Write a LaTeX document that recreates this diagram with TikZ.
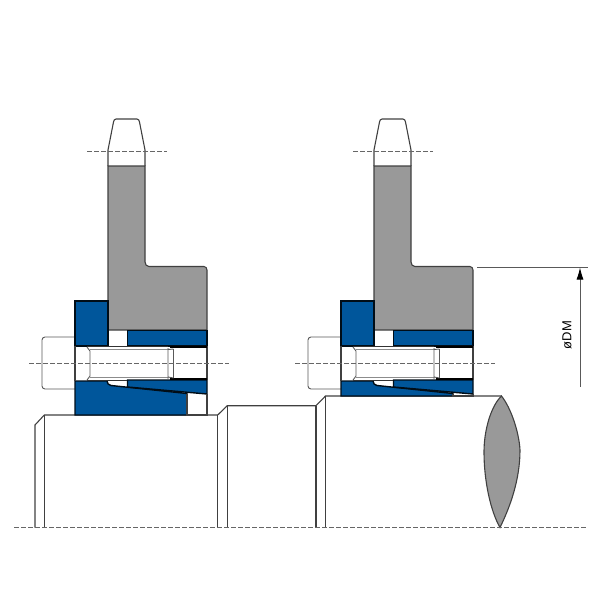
\documentclass[tikz,border=0pt]{standalone}
\usepackage{fontspec}
\setsansfont{Liberation Sans}
\usetikzlibrary{arrows.meta}
\definecolor{ringblue}{RGB}{0,86,155}
\definecolor{hubgray}{RGB}{153,153,153}
\tikzset{
    outline/.style = {draw=black!75,line width=1.1pt},
    thinline/.style = {draw=black!65,line width=0.9pt},
    ring/.style = {fill=ringblue,draw=black!85!ringblue,line width=1.4pt,line join=miter},
    hub/.style = {fill=hubgray,draw=black!75,line width=1.1pt},
    centerline/.style = {draw=black!60,line width=0.8pt,dash pattern=on 5pt off 2pt}}
% one clamping set with its sprocket: #1 shift, #2 seat of the lower ring
\newcommand{\clampset}[2]{
    \begin{scope}[xshift=#1]
        \draw[thinline,rounded corners=3pt] (75,337) -- (42,337) -- (42,389) -- (75,389);
        \draw[outline] (108,166) -- (108,150) -- (113.5,122) to[out=80,in=180] (116,119) -- (137,119) to[out=0,in=100] (139.5,122) -- (145,150) -- (145,166);
        \path[hub] (108,330) -- (108,166) -- (145,166) -- (145,262) to[out=-90,in=180] (149,266.5) -- (204,266.5) to[out=0,in=90] (207,270) -- (207,330) -- cycle;
        \draw[centerline] (87,151.7) -- (167,151.7);
        \path[ring] (75,301) rectangle (108,346);
        \path[ring] (127.5,330.5) rectangle (207,346);
        \path[ring] (75,381) -- (107,381) to[out=-90,in=170] (111,385.5) -- (187,393.5) -- (187,#2) -- (75,#2) -- cycle;
        \path[ring] (127.5,380) -- (207,380) -- (207,394) -- (127.5,387) -- cycle;
        \draw[outline] (187,394) -- (187,#2) -- (207,#2) -- (207,394);
        \draw[outline] (207,346) -- (207,380);
        \draw[outline] (75,346) -- (75,381);
        % bolt shank and thread
        \draw[black,line width=1.6pt] (170,347.2) -- (207,347.2) (170,379) -- (207,379);
        \draw[black!80,line width=1pt] (87,346.5) -- (168,346.5) (87,380) -- (127,380);
        \draw[thinline] (87,347) -- (90,351) -- (90,376) -- (87,380);
        \draw[black!45,line width=1pt] (90,349.5) -- (168,349.5) (90,377) -- (168,377);
        \draw[thinline] (168,348) -- (168,379) (173.5,349) -- (173.5,378) (168,349.5) -- (173.5,349) (168,377) -- (173.5,378);
        \draw[centerline] (29,363.5) -- (229,363.5);
    \end{scope}}

\begin{document}
\begin{tikzpicture}[x=1pt,y=-1pt]
    \useasboundingbox (0,0) rectangle (600,600);
    % shaft
    \draw[outline] (35,527.5) -- (35,425) -- (44.3,415) -- (217.7,415) -- (227.3,405.7) -- (316,405.7) -- (325.5,396) -- (501.5,396);
    \draw[outline] (44.3,415) -- (44.3,527.5) (217.7,415) -- (217.7,527.5) (227.3,405.7) -- (227.3,527.5) (316,405.7) -- (316,527.5) (325.5,396) -- (325.5,527.5);
    \path[hub] (501.5,396) .. controls (491,406) and (484,430) .. (484,452) .. controls (484,482) and (491,512) .. (500,527.5) .. controls (510,507) and (520,480) .. (520,450) .. controls (519,432) and (511,408) .. (501.5,396) -- cycle;
    \draw[centerline] (14,527.7) -- (586,527.7);
    \clampset{0pt}{415}
    \clampset{266pt}{396}
    % dimension
    \coordinate (DMtop) at (580,267.5);
    \coordinate (DMend) at (580,386.7);
    \draw[thinline] (477,267.5) -- (588,267.5);
    \draw[thinline,-{Latex[length=12pt,width=7pt,black]}] (DMend) -- (DMtop);
    \node[rotate=90,font=\sffamily\fontsize{13}{15}\selectfont,inner sep=0pt] (DM) at (567,335) {øDM};
\end{tikzpicture}
\end{document}
